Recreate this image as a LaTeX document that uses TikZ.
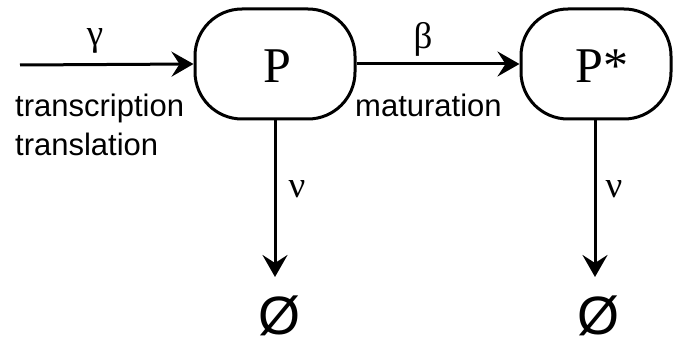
\documentclass[tikz,border=0pt]{standalone}
\usepackage{fontspec}
\setmainfont{Liberation Sans}
\newfontfamily\serifP{Liberation Serif}
\usetikzlibrary{arrows.meta}
\tikzset{
  state/.style={draw, line width=3pt, rounded corners=47pt, minimum height=110pt, inner sep=0pt},
  arr/.style={line width=3pt, -{Stealth[length=22pt, width=25pt, inset=8pt]}},
  lab/.style={font=\fontsize{31}{36}\selectfont, inner sep=0pt, anchor=base west},
  greek/.style={font=\serifP\fontsize{37}{40}\selectfont, inner sep=0pt, anchor=base},
  big/.style={font=\serifP\fontsize{50}{56}\selectfont, inner sep=0pt, anchor=base},
  empty/.style={font=\fontsize{54}{60}\selectfont, inner sep=0pt, anchor=base}
}
\begin{document}
\begin{tikzpicture}[x=1pt, y=-1pt]
\useasboundingbox (0,0) rectangle (673,345);
\node[state, minimum width=160pt] (P) at (275,64) {};
\node[state, minimum width=150pt] (Ps) at (596,64) {};
\node[big] (Pt) at (277,83) {P};
\node[big] (Pst) at (602,83) {P*};
\coordinate (in) at (20,65);
\coordinate (d1) at (275,277);
\coordinate (d2) at (595,277);
\draw[arr] (in) -- (P.west);
\draw[arr] (P.east) -- (Ps.west);
\draw[arr] (P.south) -- (d1);
\draw[arr] (Ps.south -| d2) -- (d2);
\node[greek] (g) at (95,46) {γ};
\node[greek] (b) at (423,49) {β};
\node[greek] (n1) at (297,197) {ν};
\node[greek] (n2) at (614,197) {ν};
\node[lab] (t1) at (15,117) {transcription};
\node[lab] (t2) at (15,155) {translation};
\node[lab] (m) at (355,117) {maturation};
\node[empty] (e1) at (279,334) {Ø};
\node[empty] (e2) at (598,334) {Ø};
\end{tikzpicture}
\end{document}
